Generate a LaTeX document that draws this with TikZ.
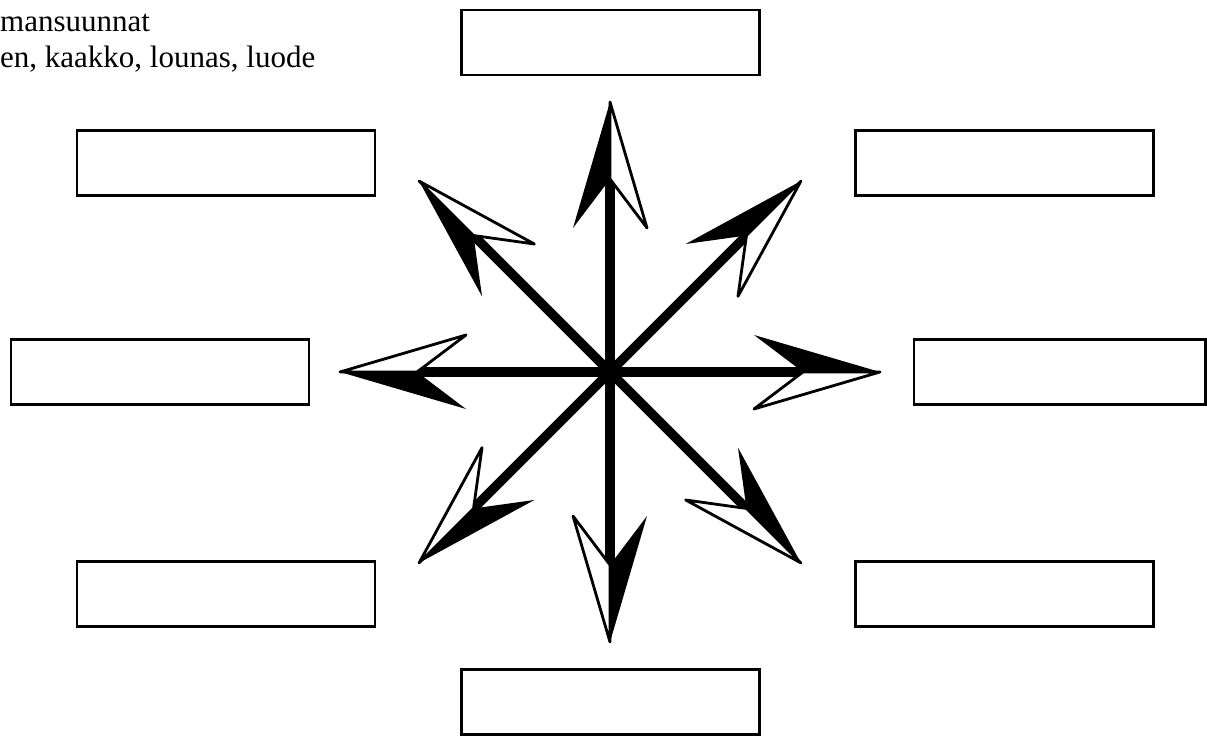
\documentclass[tikz,border=0pt]{standalone}
\usepackage{fontspec}
\setmainfont{Liberation Serif}
\begin{document}
\begin{tikzpicture}[x=1pt,y=1pt,
  box/.style={draw,line width=2.5pt,minimum width=298pt,minimum height=65pt,inner sep=0pt},
  shaft/.style={line width=9.5pt},
  whitehalf/.style={draw,fill=white,line width=2.8pt,line join=round},
  lbl/.style={anchor=base west,inner sep=0pt,font=\fontsize{31}{36}\selectfont}]
\useasboundingbox (0,0) rectangle (1207,738);
% labels
\node[lbl] (t1) at (0,706) {mansuunnat};
\node[lbl] (t2) at (0,670) {en, kaakko, lounas, luode};
% boxes
\node[box] (bN)  at (610.5,695.5) {};
\node[box] (bNW) at (226,575) {};
\node[box] (bNE) at (1004.5,575) {};
\node[box] (bW)  at (160,366) {};
\node[box,minimum width=291.5pt] (bE) at (1059.75,366) {};
\node[box] (bSW) at (226,144) {};
\node[box] (bSE) at (1004.5,144) {};
\node[box] (bS)  at (610.5,36) {};
% compass arrows
\coordinate (c) at (610,366);
\foreach \a in {0,45,...,315} {
  \begin{scope}[shift={(c)},rotate=\a]
    \coordinate (tip) at (270,0);
    \coordinate (notch) at (193,0);
    \draw[shaft] (0,0) -- (notch);
    \fill (tip) -- (144,37) -- (notch) -- cycle;
    \draw[whitehalf] (tip) -- (144,-37) -- (notch) -- cycle;
  \end{scope}
}
\end{tikzpicture}
\end{document}
